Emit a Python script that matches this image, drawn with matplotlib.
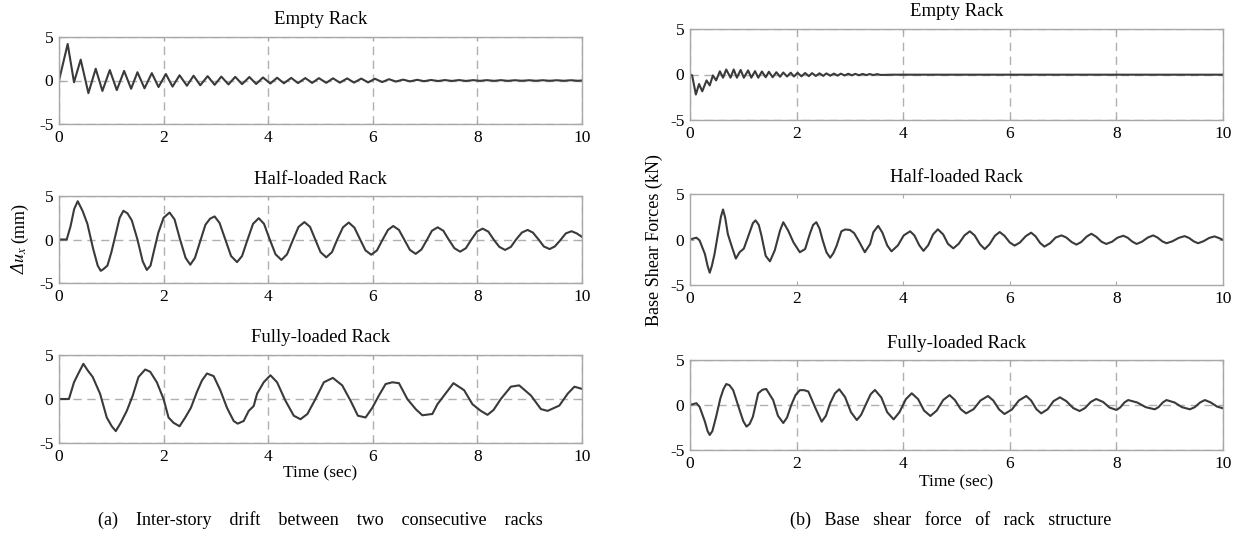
import matplotlib
matplotlib.use("Agg")
import matplotlib.pyplot as plt
from matplotlib.transforms import Bbox

plt.rcParams['font.family'] = ['Liberation Serif', 'DejaVu Serif']
plt.rcParams['mathtext.fontset'] = 'stix'
plt.rcParams['axes.unicode_minus'] = False

# ---------------- data ----------------
x_ticks = [0, 2, 4, 6, 8, 10]
y_ticks = [-5, 0, 5]
panel_titles = ["Empty Rack", "Half-loaded Rack", "Fully-loaded Rack"]

# (a) inter-story drift (mm)
drift_empty_t = [0, 0.166, 0.287, 0.415, 0.562, 0.702, 0.830, 0.971, 1.105, 1.245, 1.379, 1.50, 1.635, 1.775,
                 1.903, 2.043, 2.171, 2.305, 2.446, 2.573, 2.701, 2.842, 2.976, 3.103, 3.24, 3.37, 3.50, 3.64,
                 3.77, 3.90, 4.04, 4.17, 4.30, 4.44, 4.57, 4.71, 4.84, 4.97, 5.11, 5.24, 5.37, 5.51, 5.64, 5.78,
                 5.91, 6.04, 6.18, 6.31, 6.44, 6.58, 6.71, 6.85, 6.98, 7.11, 7.25, 7.38, 7.51, 7.65, 7.78, 7.92,
                 8.05, 8.18, 8.32, 8.45, 8.58, 8.72, 8.85, 8.99, 9.12, 9.25, 9.38, 9.52, 9.65, 9.79, 9.92, 10.0]
drift_empty_v = [0, 4.2, -0.2, 2.4, -1.45, 1.35, -1.2, 1.2, -1.1, 1.1, -0.95, 0.95, -0.9, 0.85,
                 -0.75, 0.75, -0.7, 0.6, -0.6, 0.55, -0.55, 0.5, -0.5, 0.45, -0.45, 0.42, -0.42, 0.4,
                 -0.4, 0.35, -0.35, 0.32, -0.32, 0.3, -0.3, 0.28, -0.28, 0.27, -0.27, 0.25, -0.25, 0.24, -0.24, 0.22,
                 -0.22, 0.2, -0.18, 0.15, -0.12, 0.1, -0.1, 0.08, -0.08, 0.06, -0.06, 0.05, -0.05, 0.05, -0.05, 0.04,
                 -0.04, 0.04, -0.04, 0.04, -0.04, 0.03, -0.03, 0.03, -0.03, 0.03, -0.03, 0.03, -0.03, 0.03, -0.03, 0.0]

drift_half_t = [0, 0.147, 0.22, 0.29, 0.358, 0.45, 0.543, 0.65, 0.74, 0.798, 0.85, 0.926, 1.0, 1.08, 1.16,
                1.232, 1.31, 1.392, 1.5, 1.6, 1.679, 1.75, 1.82, 1.9, 2.0, 2.114, 2.21, 2.31, 2.42, 2.51,
                2.60, 2.70, 2.80, 2.89, 2.976, 3.07, 3.18, 3.29, 3.404, 3.50, 3.60, 3.71, 3.819, 3.92, 4.03,
                4.14, 4.253, 4.36, 4.47, 4.58, 4.693, 4.80, 4.90, 5.0, 5.11, 5.22, 5.32, 5.43, 5.54, 5.65,
                5.75, 5.86, 5.97, 6.08, 6.18, 6.29, 6.39, 6.50, 6.60, 6.71, 6.82, 6.93, 7.03, 7.13, 7.24,
                7.35, 7.45, 7.56, 7.67, 7.78, 7.88, 7.99, 8.10, 8.21, 8.31, 8.42, 8.53, 8.64, 8.74, 8.85,
                8.96, 9.06, 9.17, 9.27, 9.38, 9.48, 9.59, 9.69, 9.80, 9.90, 10.0]
drift_half_v = [0, 0, 1.5, 3.5, 4.4, 3.3, 1.8, -1.0, -3.0, -3.6, -3.4, -3.0, -1.5, 0.5, 2.5,
                3.3, 3.0, 2.2, 0.0, -2.5, -3.5, -3.0, -1.2, 0.8, 2.5, 3.1, 2.3, 0.1, -2.1, -2.9,
                -2.1, -0.2, 1.7, 2.4, 2.65, 1.9, 0.0, -1.9, -2.6, -1.9, -0.1, 1.8, 2.45, 1.8, 0.0,
                -1.7, -2.35, -1.7, -0.1, 1.45, 2.0, 1.45, 0.0, -1.45, -2.05, -1.45, 0.0, 1.4, 1.95, 1.35,
                0.1, -1.25, -1.75, -1.25, -0.1, 1.1, 1.55, 1.1, 0.0, -1.2, -1.65, -1.15, -0.1, 1.0, 1.4,
                1.0, 0.0, -1.0, -1.4, -1.0, -0.05, 0.9, 1.25, 0.9, 0.0, -0.85, -1.2, -0.85, 0.0, 0.8,
                1.1, 0.8, 0.0, -0.8, -1.1, -0.8, -0.05, 0.7, 0.95, 0.7, 0.3]

drift_full_t = [0, 0.19, 0.287, 0.370, 0.466, 0.543, 0.645, 0.785, 0.913, 1.009, 1.086, 1.181, 1.296, 1.411,
                1.520, 1.648, 1.743, 1.871, 1.999, 2.094, 2.190, 2.305, 2.414, 2.522, 2.637, 2.733, 2.829,
                2.957, 3.084, 3.212, 3.340, 3.416, 3.531, 3.627, 3.723, 3.787, 3.914, 4.042, 4.170, 4.330,
                4.489, 4.617, 4.75, 4.904, 5.064, 5.236, 5.415, 5.575, 5.715, 5.862, 5.990, 6.117, 6.245,
                6.373, 6.500, 6.660, 6.820, 6.948, 7.139, 7.235, 7.363, 7.542, 7.746, 7.906, 8.065, 8.193,
                8.308, 8.448, 8.640, 8.799, 9.023, 9.215, 9.342, 9.566, 9.726, 9.854, 10.0]
drift_full_v = [0, 0, 1.9, 2.9, 4.0, 3.3, 2.5, 0.6, -2.1, -3.1, -3.65, -2.7, -1.35, 0.4,
                2.5, 3.35, 3.1, 1.9, 0.0, -2.1, -2.7, -3.1, -2.1, -1.0, 0.8, 2.1, 2.9,
                2.6, 1.0, -1.0, -2.5, -2.8, -2.5, -1.35, -0.8, 0.6, 1.9, 2.7, 1.9, -0.2,
                -1.9, -2.3, -1.7, 0.0, 1.9, 2.4, 1.55, -0.2, -1.9, -2.1, -1.0, 0.4, 1.7,
                1.9, 1.8, 0.0, -1.15, -1.85, -1.7, -0.6, 0.4, 1.8, 1.0, -0.6, -1.35, -1.8,
                -1.25, 0.0, 1.4, 1.55, 0.4, -1.15, -1.35, -0.75, 0.6, 1.4, 1.15]

# (b) base shear force (kN)
shear_empty_t = [0, 0.04, 0.11, 0.17, 0.23, 0.31, 0.37, 0.43, 0.49, 0.56, 0.62, 0.68, 0.76, 0.82, 0.88,
                 0.95, 1.01, 1.09, 1.15, 1.22, 1.28, 1.35, 1.42, 1.48, 1.55, 1.62, 1.69, 1.75, 1.82, 1.89,
                 1.95, 2.02, 2.09, 2.16, 2.23, 2.29, 2.36, 2.43, 2.50, 2.56, 2.63, 2.70, 2.77, 2.83, 2.90,
                 2.97, 3.04, 3.10, 3.17, 3.24, 3.31, 3.37, 3.44, 3.51, 3.58, 3.8, 10.0]
shear_empty_v = [0, -0.1, -2.2, -1.05, -1.85, -0.65, -1.2, -0.1, -0.65, 0.35, -0.35, 0.55, -0.35, 0.55, -0.35,
                 0.5, -0.35, 0.45, -0.35, 0.37, -0.35, 0.33, -0.3, 0.3, -0.3, 0.25, -0.25, 0.22, -0.22, 0.2,
                 -0.22, 0.18, -0.2, 0.16, -0.18, 0.15, -0.16, 0.13, -0.15, 0.12, -0.13, 0.1, -0.12, 0.09, -0.1,
                 0.08, -0.09, 0.07, -0.08, 0.06, -0.07, 0.05, -0.06, 0.04, -0.05, -0.02, -0.02]

shear_half_t = [0, 0.12, 0.18, 0.28, 0.33, 0.37, 0.41, 0.46, 0.53, 0.58,
                0.62, 0.66, 0.71, 0.78, 0.86, 0.93, 1.01, 1.12, 1.18, 1.23,
                1.29, 1.34, 1.42, 1.50, 1.59, 1.69, 1.75, 1.84, 1.94, 2.06,
                2.16, 2.25, 2.31, 2.37, 2.43, 2.49, 2.56, 2.63, 2.69, 2.75,
                2.84, 2.91, 3.00, 3.08, 3.16, 3.28, 3.38, 3.44, 3.53, 3.61,
                3.70, 3.78, 3.90, 4.01, 4.13, 4.21, 4.30, 4.38, 4.47, 4.56,
                4.65, 4.75, 4.84, 4.94, 5.04, 5.15, 5.25, 5.34, 5.44, 5.53,
                5.62, 5.72, 5.81, 5.90, 6.00, 6.09, 6.19, 6.30, 6.40, 6.48,
                6.57, 6.65, 6.76, 6.86, 6.97, 7.06, 7.16, 7.25, 7.34, 7.44,
                7.53, 7.62, 7.72, 7.81, 7.92, 8.02, 8.13, 8.21, 8.30, 8.38,
                8.48, 8.59, 8.69, 8.77, 8.86, 8.94, 9.05, 9.17, 9.28, 9.36,
                9.45, 9.53, 9.63, 9.74, 9.84, 9.92, 10.0]
shear_half_v = [0, 0.2, -0.1, -1.6, -2.9, -3.65, -2.9, -1.6, 0.8, 2.5,
                3.3, 2.4, 0.6, -0.7, -2.1, -1.4, -1.0, 0.8, 1.8, 2.1,
                1.6, 0.45, -1.8, -2.4, -1.2, 1.0, 1.9, 1.0, -0.3, -1.4,
                -1.05, 0.65, 1.6, 1.9, 1.2, -0.1, -1.4, -2.0, -1.5, -0.7,
                0.9, 1.1, 1.05, 0.7, -0.1, -1.4, -0.5, 0.8, 1.5, 0.75,
                -0.65, -1.3, -0.65, 0.45, 0.9, 0.45, -0.62, -1.25, -0.62, 0.56,
                1.12, 0.56, -0.48, -0.97, -0.48, 0.45, 0.9, 0.45, -0.52, -1.05,
                -0.52, 0.41, 0.82, 0.41, -0.33, -0.67, -0.33, 0.37, 0.75, 0.37,
                -0.39, -0.78, -0.39, 0.22, 0.45, 0.22, -0.28, -0.56, -0.28, 0.31,
                0.63, 0.31, -0.24, -0.49, -0.24, 0.2, 0.41, 0.2, -0.24, -0.49,
                -0.24, 0.22, 0.45, 0.22, -0.2, -0.41, -0.2, 0.18, 0.37, 0.18,
                -0.2, -0.41, -0.2, 0.17, 0.34, 0.17, -0.04]

shear_full_t = [0, 0.12, 0.18, 0.28, 0.33, 0.37, 0.42, 0.49, 0.57, 0.63,
                0.68, 0.74, 0.81, 0.93, 1.00, 1.06, 1.12, 1.18, 1.28, 1.36,
                1.43, 1.56, 1.65, 1.75, 1.82, 1.90, 1.98, 2.06, 2.14, 2.22,
                2.35, 2.47, 2.55, 2.63, 2.72, 2.80, 2.91, 3.02, 3.13, 3.21,
                3.31, 3.39, 3.47, 3.59, 3.70, 3.82, 3.93, 4.05, 4.16, 4.28,
                4.39, 4.51, 4.63, 4.75, 4.87, 4.97, 5.08, 5.18, 5.32, 5.45,
                5.59, 5.69, 5.80, 5.90, 6.04, 6.17, 6.31, 6.40, 6.50, 6.59,
                6.71, 6.82, 6.94, 7.06, 7.19, 7.31, 7.41, 7.52, 7.62, 7.75,
                7.87, 8.00, 8.07, 8.15, 8.22, 8.39, 8.55, 8.72, 8.79, 8.87,
                8.94, 9.09, 9.23, 9.38, 9.47, 9.57, 9.66, 9.77, 9.89, 10.0]
shear_full_v = [0, 0.2, -0.2, -1.85, -2.9, -3.33, -2.9, -1.3, 0.75, 1.8,
                2.33, 2.2, 1.65, -0.55, -1.8, -2.4, -2.1, -1.3, 1.3, 1.7,
                1.78, 0.55, -1.2, -2.0, -1.4, 0.0, 1.1, 1.65, 1.65, 1.5,
                -0.3, -1.85, -1.2, 0.2, 1.3, 1.75, 0.87, -0.8, -1.67, -1.1,
                0.2, 1.2, 1.67, 0.83, -0.8, -1.6, -0.8, 0.65, 1.3, 0.65,
                -0.61, -1.22, -0.61, 0.55, 1.1, 0.55, -0.47, -0.93, -0.47, 0.5,
                1.0, 0.5, -0.5, -1.0, -0.5, 0.5, 1.0, 0.5, -0.47, -0.93,
                -0.47, 0.43, 0.85, 0.43, -0.34, -0.67, -0.34, 0.34, 0.67, 0.34,
                -0.28, -0.55, -0.28, 0.28, 0.55, 0.28, -0.24, -0.48, -0.24, 0.28,
                0.55, 0.28, -0.24, -0.48, -0.24, 0.28, 0.55, 0.28, -0.18, -0.37]

# ---------------- figure ----------------
W, H = 1242, 536
fig = plt.figure(figsize=(W / 100, H / 100), dpi=100)


def axes_px(x0, x1, y0, y1):
    return fig.add_axes([x0 / W, 1 - y1 / H, (x1 - x0) / W, (y1 - y0) / H])


LINE = '#3a3a3a'
SPINE = '#a8a8a8'
GRID = '#b0b0b0'


def style(ax, title, grid=True):
    ax.set_xlim(0, 10)
    ax.set_ylim(-5, 5)
    ax.set_xticks(x_ticks)
    ax.set_yticks(y_ticks)
    ax.set_title(title, fontsize=13.5, pad=9)
    for s in ax.spines.values():
        s.set_color(SPINE)
        s.set_linewidth(1.0)
    ax.tick_params(direction='in', length=3, color=SPINE, labelsize=12.5, pad=4,
                   top=True, right=True)
    if grid:
        ax.set_axisbelow(True)
        ax.grid(True, linestyle=(0, (6, 4)), color=GRID, linewidth=1.0)


left_rows = [(37, 124), (196, 283), (355, 443)]
right_rows = [(29, 120), (194, 285), (360, 450)]

left_data = [(drift_empty_t, drift_empty_v), (drift_half_t, drift_half_v), (drift_full_t, drift_full_v)]
right_data = [(shear_empty_t, shear_empty_v), (shear_half_t, shear_half_v), (shear_full_t, shear_full_v)]

for i, (y0, y1) in enumerate(left_rows):
    ax = axes_px(59, 582, y0, y1)
    style(ax, panel_titles[i])
    ax.plot(left_data[i][0], left_data[i][1], color=LINE, lw=1.5, solid_joinstyle='round')

for i, (y0, y1) in enumerate(right_rows):
    ax = axes_px(690, 1223, y0, y1)
    style(ax, panel_titles[i], grid=(i != 1))
    ax.plot(right_data[i][0], right_data[i][1], color=LINE, lw=1.5, solid_joinstyle='round')

# y label of (a): italic "Δu_x" followed by upright "(mm)"
t1 = fig.text(19 / W, 1 - 274 / H, r'Δ$u_x$', rotation=90, ha='center', va='bottom',
              fontsize=13, style='italic')
fig.canvas.draw()
bb = t1.get_window_extent()
fig.text(20 / W, (bb.y1 + 3) / H, '(mm)', rotation=90, ha='center', va='bottom', fontsize=13)

fig.text(654 / W, 1 - 240 / H, 'Base Shear Forces (kN)', rotation=90, ha='center', va='center', fontsize=13)
fig.text(320 / W, 1 - 473 / H, 'Time (sec)', ha='center', va='center', fontsize=12.5)
fig.text(956.5 / W, 1 - 482 / H, 'Time (sec)', ha='center', va='center', fontsize=12.5)

fig.text(320 / W, 1 - 520 / H, '(a)    Inter-story    drift    between    two    consecutive    racks',
         ha='center', va='center', fontsize=13)
fig.text(951 / W, 1 - 520 / H, '(b)   Base   shear   force   of   rack   structure',
         ha='center', va='center', fontsize=13)

fig.savefig('out.png', dpi=100)
